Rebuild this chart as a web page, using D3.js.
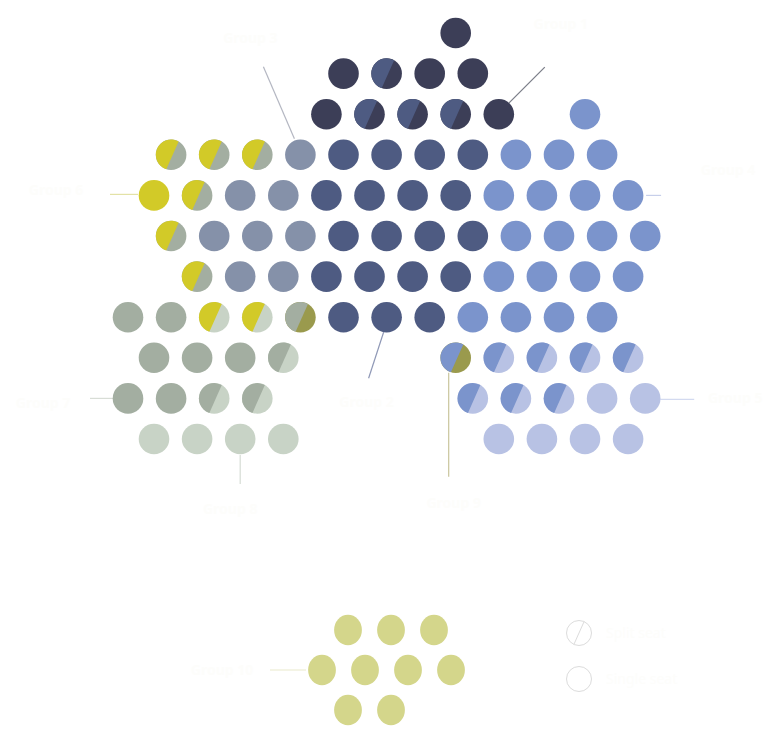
<!DOCTYPE html>
<html>
<head>
<meta charset="utf-8">
<script src="https://cdn.jsdelivr.net/npm/d3@7"></script>
<style>
  html, body { margin: 0; padding: 0; background: #ffffff; }
  svg { display: block; }
  text { font-family: "Noto Sans", "DejaVu Sans", sans-serif; }
</style>
</head>
<body>
<div id="chart"></div>
<script>
// ---------- DATA ----------
// Each row of the seat grid: first column index and the seat tokens.
// Token "A/B" = seat split between group A (upper-left) and group B (lower-right); "" = empty cell.
const rowStarts = [7, 5, 4, 1, 0, 1, 1, 0, 0, 0, 0];
const rowSeats = [
  ["D"],
  ["D", "N/D", "D", "D"],
  ["D", "N/D", "N/D", "N/D", "D", "", "B"],
  ["Y/S", "Y/S", "Y/S", "G", "N", "N", "N", "N", "B", "B", "B"],
  ["Y", "Y/S", "G", "G", "N", "N", "N", "N", "B", "B", "B", "B"],
  ["Y/S", "G", "G", "G", "N", "N", "N", "N", "B", "B", "B", "B"],
  ["Y/S", "G", "G", "N", "N", "N", "N", "B", "B", "B", "B"],
  ["S", "S", "Y/P", "Y/P", "S/O", "N", "N", "N", "B", "B", "B", "B"],
  ["S", "S", "S", "S/P", "", "", "", "B/O", "B/L", "B/L", "B/L", "B/L"],
  ["S", "S", "S/P", "S/P", "", "", "", "", "B/L", "B/L", "B/L", "L", "L"],
  ["P", "P", "P", "P", "", "", "", "", "L", "L", "L", "L"]
];
// Separate cluster (bottom)
const clusterRows = [3, 4, 2];

// Group keys and colours
const groupKeys   = ["D", "N", "G", "B", "L", "Y", "S", "P", "O", "K"];
const groupColors = ["#3c3e57", "#4e5b82", "#8591a9", "#7b94cc", "#b8c2e4",
                     "#d2ca28", "#a3aea1", "#c8d3c6", "#9a9a4d", "#d4d68b"];

// Annotations: anchored seat [row, col], label text
const annoSeats  = [[3, 4], [2, 8], [4, 0], [4, 11], [7, 6], [8, 7], [9, 0], [9, 12], [10, 2]];
const annoLabels = ["Group 3", "Group 1", "Group 6", "Group 4", "Group 2",
                    "Group 9", "Group 7", "Group 5", "Group 8"];
const legendLabels = ["Split seat", "Single seat"];
const clusterLabel = "Group 10";

// ---------- LAYOUT ----------
const W = 775, H = 733;
const svg = d3.select("#chart").append("svg").attr("width", W).attr("height", H);

const R = 15.3;
const x = d3.scaleLinear().domain([0, 12]).range([128, 645.2]);
const oddShift = 26;
const y = d3.scaleLinear().domain([0, 10]).range([33, 439]);
const color = d3.scaleOrdinal().domain(groupKeys).range(groupColors);

function seatX(row, col) { return x(col) + (row % 2 === 0 ? oddShift : 0); }
function seatY(row) { return y(row); }

const seats = [];
rowSeats.forEach((tokens, r) => {
  tokens.forEach((t, i) => {
    if (!t) return;
    const parts = t.split("/");
    seats.push({ row: r, col: rowStarts[r] + i, a: parts[0], b: parts[1] || parts[0] });
  });
});

const theta = 66 * Math.PI / 180;
const dx = Math.cos(theta), dy = -Math.sin(theta);
const nx = Math.sin(theta), ny = Math.cos(theta);   // normal toward lower-right
const chordShift = 1.5;
function halfPath(cx, cy, r) {
  const h = chordShift, half = Math.sqrt(r * r - h * h);
  const mx = cx + h * nx, my = cy + h * ny;
  const p1 = [mx + half * dx, my + half * dy], p2 = [mx - half * dx, my - half * dy];
  return `M${p1[0]},${p1[1]} A${r},${r} 0 1 0 ${p2[0]},${p2[1]} Z`;
}

// ---------- LEADER LINES & LABELS (behind dots) ----------
const leaderColors = ["#b4b7c2", "#7a7d88", "#e3e2a6", "#c7cfea", "#8f98b6",
                      "#c9c59c", "#d8ddd6", "#d3daf0", "#d6dcd5"];
// line start/end offsets relative to anchored seat centre
const leaderOffsets = [[-6, -16, -37, -88], [10, -11, 46, -47], [-16, -1, -44, -1], [18, 0, 33, 0],
                       [-3, 15, -18, 61], [-7, 15, -7, 119], [-15, 0, -38, 0], [15, 1, 49, 1], [0, 16, 0, 45]];
const labelPos = [[-50, -112, "middle"], [62, -85, "middle"], [-98, 0, "middle"], [100, -20, "middle"],
                  [-20, 90, "middle"], [-2, 150, "middle"], [-85, 10, "middle"], [90, 5, "middle"], [-10, 75, "middle"]];

const annG = svg.append("g");
annoSeats.forEach((s, i) => {
  const cx = seatX(s[0], s[1]), cy = seatY(s[0]);
  const o = leaderOffsets[i];
  annG.append("line")
    .attr("x1", cx + o[0]).attr("y1", cy + o[1])
    .attr("x2", cx + o[2]).attr("y2", cy + o[3])
    .attr("stroke", leaderColors[i]).attr("stroke-width", 1.2);
  const lp = labelPos[i];
  annG.append("text")
    .attr("x", cx + lp[0]).attr("y", cy + lp[1])
    .attr("text-anchor", lp[2])
    .attr("font-size", 14).attr("font-weight", "bold")
    .attr("fill", "#fdfdfb")
    .text(annoLabels[i]);
});

// ---------- SEATS ----------
const dotG = svg.append("g");
seats.forEach(s => {
  const cx = seatX(s.row, s.col), cy = seatY(s.row);
  dotG.append("circle").attr("cx", cx).attr("cy", cy).attr("r", R)
    .attr("fill", color(s.b));
  if (s.a !== s.b) {
    dotG.append("path").attr("d", halfPath(cx, cy, R)).attr("fill", color(s.a));
  }
});

// ---------- BOTTOM CLUSTER ----------
const cx0 = d3.scaleLinear().domain([0, 3]).range([322, 451]);
const cy0 = d3.scaleLinear().domain([0, 2]).range([630, 710]);
const clusterG = svg.append("g");
clusterRows.forEach((n, r) => {
  d3.range(n).forEach(c => {
    clusterG.append("ellipse")
      .attr("cx", cx0(c) + (r % 2 === 0 ? oddShift : 0))
      .attr("cy", cy0(r))
      .attr("rx", 13.9).attr("ry", 15.3)
      .attr("fill", color("K"));
  });
});
clusterG.append("line")
  .attr("x1", cx0(0) - 16).attr("y1", cy0(1))
  .attr("x2", cx0(0) - 52).attr("y2", cy0(1))
  .attr("stroke", "#e9eacb").attr("stroke-width", 1.2);
clusterG.append("text")
  .attr("x", cx0(0) - 100).attr("y", cy0(1) + 5)
  .attr("text-anchor", "middle").attr("font-size", 14).attr("font-weight", "bold")
  .attr("fill", "#fdfdfb").text(clusterLabel);

// ---------- LEGEND ----------
const legY = d3.scaleLinear().domain([0, 1]).range([633, 679]);
const legG = svg.append("g");
legendLabels.forEach((lab, i) => {
  const ly = legY(i);
  legG.append("circle").attr("cx", 579).attr("cy", ly).attr("r", 12.5)
    .attr("fill", "#ffffff").attr("stroke", "#dcdcdc").attr("stroke-width", 1);
  if (i === 0) {
    legG.append("line")
      .attr("x1", 579 + 12.5 * dx).attr("y1", ly + 12.5 * dy)
      .attr("x2", 579 - 12.5 * dx).attr("y2", ly - 12.5 * dy)
      .attr("stroke", "#dcdcdc").attr("stroke-width", 1);
  }
  legG.append("text").attr("x", 606).attr("y", ly + 5)
    .attr("font-size", 14).attr("fill", "#fdfdfb").text(lab);
});
</script>
</body>
</html>
